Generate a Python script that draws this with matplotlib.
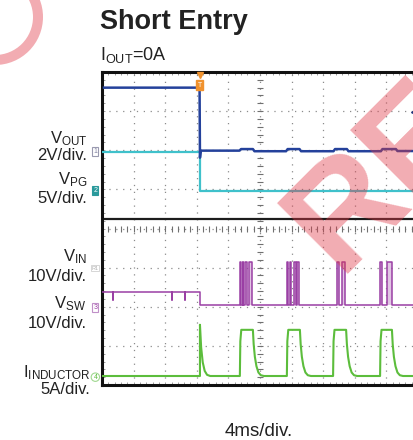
"""
Captura de osciloscopio: Short Entry (IOUT = 0 A).
Cuatro canales + VIN, 4 ms/div, 10 div horizontales x 8 verticales.
"""

import numpy as np
import matplotlib.pyplot as plt
from matplotlib.patches import Circle
from matplotlib.ticker import MultipleLocator
from matplotlib.transforms import IdentityTransform, blended_transform_factory

plt.rcParams['font.family'] = ['Liberation Sans', 'DejaVu Sans']
plt.rcParams['mathtext.fontset'] = 'custom'
plt.rcParams['mathtext.rm'] = 'Liberation Sans'
plt.rcParams['mathtext.it'] = 'Liberation Sans'
plt.rcParams['mathtext.bf'] = 'Liberation Sans:bold'

# ---- datos (tiempo en ms desde el borde izquierdo) ----
t_trig = 12.4

vout_t = [0.25, 12.35, 12.4, 12.5, 17.4, 17.6, 19.1, 19.3, 23.3, 23.5, 25.0, 25.2,
          29.3, 29.5, 31.0, 31.2, 35.3, 35.5, 37.2, 37.4, 40.0]
vout_v = [3.28, 3.28, -0.3, 0.06, 0.06, 0.14, 0.14, 0.03, 0.03, 0.14, 0.14, 0.03,
          0.03, 0.14, 0.14, 0.03, 0.03, 0.14, 0.14, 0.04, 0.04]

vpg_t = [0.0, 12.4, 12.4, 40.0]
vpg_v = [4.95, 4.95, 0.0, 0.0]

vin_t = [0.0, 40.0]
vin_v = [12.5, 12.5]

# VSW: nivel antes/despues del corto, picos previos y rafagas de conmutacion
sw_pre = 4.05
sw_post = 0.7
sw_high = 11.7
sw_dip = 2.0
sw_dip_t = [1.4, 8.85, 10.5]
sw_bursts = [(17.5, 17.58), (17.8, 17.88), (18.1, 18.35), (18.65, 18.95),
             (23.4, 23.55), (23.8, 23.95), (24.3, 24.5), (24.72, 24.95),
             (29.7, 29.98), (30.36, 30.76),
             (35.19, 35.5), (36.1, 36.7)]

# corriente de bobina: pulsos de hiccup
il_base = 0.15
il_peak = 6.05
il_on = [17.45, 23.4, 29.25, 35.2]
il_off = [19.1, 25.05, 30.9, 36.7]
rise_dt = [0.0, 0.06, 0.18]
rise_i = [0.15, 4.6, 6.05]
fall_dt = [0.0, 0.1, 0.25, 0.45, 0.7, 1.0, 1.4]
fall_i = [6.05, 4.2, 2.6, 1.4, 0.6, 0.25, 0.15]
spike_dt = [0.0, 0.15, 0.35, 0.6, 0.9, 1.3]
spike_i = [6.7, 3.8, 1.9, 0.8, 0.3, 0.15]

trig_level = 2.05  # V, marcador derecho del canal 1

# ---- configuracion de canales (posicion de tierra en div, escala por div) ----
CH = {
    'vout': dict(pos=1.96, scale=2.0, color='#24419b'),
    'vpg': dict(pos=0.97, scale=5.0, color='#3fc1cb'),
    'vin': dict(pos=-1.01, scale=10.0, color='#1c1c1c'),
    'vsw': dict(pos=-2.03, scale=10.0, color='#9a3fa4'),
    'il': dict(pos=-3.80, scale=5.0, color='#5cbd3c'),
}


def a_div(valores, canal):
    c = CH[canal]
    return np.asarray(valores, dtype=float) / c['scale'] + c['pos']


# traza VSW
sw_t = [0.0]
sw_v = [sw_pre]
for td in sw_dip_t:
    sw_t += [td, td, td + 0.05, td + 0.05]
    sw_v += [sw_pre, sw_dip, sw_dip, sw_pre]
sw_t += [t_trig, t_trig]
sw_v += [sw_pre, sw_post]
for on, off in sw_bursts:
    sw_t += [on, on, off, off]
    sw_v += [sw_post, sw_high, sw_high, sw_post]
sw_t.append(40.0)
sw_v.append(sw_post)

# traza IL
il_t = [0.0, t_trig]
il_i = [il_base, il_base]
il_t += [t_trig + d for d in spike_dt]
il_i += spike_i
for on, off in zip(il_on, il_off):
    il_t += [on + d for d in rise_dt]
    il_i += rise_i
    il_t += [off + d for d in fall_dt]
    il_i += fall_i
il_t.append(40.0)
il_i.append(il_base)

# ---- figura ----
fig = plt.figure(figsize=(4.14, 4.40), dpi=100)
fig.patch.set_facecolor('white')
ax = fig.add_axes([102 / 414, 55 / 440, 316 / 414, 313 / 440])
ax.set_xlim(0, 40)
ax.set_ylim(-4, 4)

# reticula del osciloscopio
gris = '#8c8c8c'
for k in range(1, 10):
    ax.axvline(4 * k, ls=(0, (1, 4.5)), color=gris, lw=0.9, zorder=1)
for k in range(-3, 4):
    ax.axhline(k, ls=(0, (1, 4.5)), color=gris, lw=0.9, zorder=1)
xt = np.arange(0.8, 40, 0.8)
ax.plot(xt, np.zeros_like(xt), ls='none', marker='|', ms=4, mew=0.8, color='#707070', zorder=1)
yt = np.arange(-3.8, 4, 0.2)
ax.plot(np.full_like(yt, 20.0), yt, ls='none', marker='_', ms=4, mew=0.8, color='#707070', zorder=1)

ax.set_xticks([])
ax.set_yticks([])
ax.xaxis.set_minor_locator(MultipleLocator(0.8))
ax.yaxis.set_minor_locator(MultipleLocator(0.2))
ax.tick_params(which='minor', direction='in', length=2.5, color=gris,
               top=True, right=False, labelbottom=False, labelleft=False)
for s in ax.spines.values():
    s.set_linewidth(2.2)
    s.set_color('#111111')
ax.spines['right'].set_visible(False)

# trazas
ax.plot(vin_t, a_div(vin_v, 'vin'), color=CH['vin']['color'], lw=1.6, zorder=2)
ax.plot(vpg_t, a_div(vpg_v, 'vpg'), color=CH['vpg']['color'], lw=1.6, zorder=3)
ax.plot(vout_t, a_div(vout_v, 'vout'), color=CH['vout']['color'], lw=1.8, zorder=4)
sw_y = a_div(sw_v, 'vsw')
ax.fill_between(sw_t, a_div([sw_post] * len(sw_t), 'vsw'), sw_y,
                where=np.asarray(sw_v) >= sw_high, color=CH['vsw']['color'],
                alpha=0.3, lw=0, zorder=3)
ax.plot(sw_t, sw_y, color=CH['vsw']['color'], lw=1.1, zorder=4)
ax.plot(il_t, a_div(il_i, 'il'), color=CH['il']['color'], lw=1.5, zorder=4)

# marcadores de canal a la izquierda
trans = blended_transform_factory(ax.transAxes, ax.transData)
mx = -0.021
marcas = [
    ('vout', '1', dict(boxstyle='square,pad=0.15', fc='white', ec='#9a9ab0', lw=0.8), '#8080a0'),
    ('vpg', '2', dict(boxstyle='square,pad=0.15', fc='#2a9a9c', ec='#2a9a9c', lw=0.8), 'white'),
    ('vin', 'R1', dict(boxstyle='square,pad=0.1', fc='white', ec='#d0d0d0', lw=0.6), '#b0b0b0'),
    ('vsw', '3', dict(boxstyle='square,pad=0.15', fc='white', ec='#c090c8', lw=0.8), '#9a3fa4'),
    ('il', '4', dict(boxstyle='circle,pad=0.1', fc='white', ec='#a0d890', lw=0.8), '#5cbd3c'),
]
for canal, txt, caja, col in marcas:
    ax.text(mx, CH[canal]['pos'], txt, transform=trans, ha='center', va='center',
            fontsize=5 if len(txt) == 1 else 4, color=col, bbox=caja, clip_on=False, zorder=6)

# disparo (arriba) y nivel de disparo (derecha)
ax.plot([t_trig], [3.93], marker='v', ms=4, color='#f0922e', clip_on=False, zorder=6)
ax.text(t_trig, 3.66, 'T', ha='center', va='center', fontsize=5, color='white',
        bbox=dict(boxstyle='square,pad=0.2', fc='#f0922e', ec='#f0922e'), zorder=6)
ax.plot([39.6], a_div([trig_level], 'vout'), marker='<', ms=6, color='#1b2f7a',
        clip_on=False, zorder=6)

# textos
oscuro = '#222222'
fig.text(100 / 414, 1 - 29 / 440, 'Short Entry', fontsize=19.5, fontweight='bold',
         color=oscuro, ha='left', va='baseline')
fig.text(100 / 414, 1 - 60 / 440, r'I$_{\mathrm{OUT}}$=0A', fontsize=13,
         color=oscuro, ha='left', va='baseline')

etiquetas = [
    (r'V$_{\mathrm{OUT}}$', 88, 143), ('2V/div.', 87, 160.5),
    (r'V$_{\mathrm{PG}}$', 87, 184), ('5V/div.', 87, 203),
    (r'V$_{\mathrm{IN}}$', 87, 261), ('10V/div.', 87, 281),
    (r'V$_{\mathrm{SW}}$', 86, 308), ('10V/div.', 87, 327.5),
    (r'I$_{\mathrm{INDUCTOR}}$', 91, 377), ('5A/div.', 90, 394),
]
for txt, xr, yb in etiquetas:
    fig.text(xr / 414, 1 - yb / 440, txt, fontsize=12, color=oscuro,
             ha='right', va='baseline')

fig.text(259 / 414, 1 - 436 / 440, '4ms/div.', fontsize=13.5, color=oscuro,
         ha='center', va='baseline')

# marca de agua
rosa = '#e03a48'
fig.add_artist(Circle((-5, 423), 43, transform=IdentityTransform(), fill=False,
                      lw=7.2, ec=rosa, alpha=0.42, zorder=10))
fig.text(338, 166, 'RE', transform=IdentityTransform(), fontsize=104,
         fontweight='bold', color=rosa, alpha=0.42, rotation=45,
         rotation_mode='anchor', ha='left', va='baseline', zorder=10)

fig.savefig('out.png', dpi=100, facecolor='white')
plt.close(fig)
